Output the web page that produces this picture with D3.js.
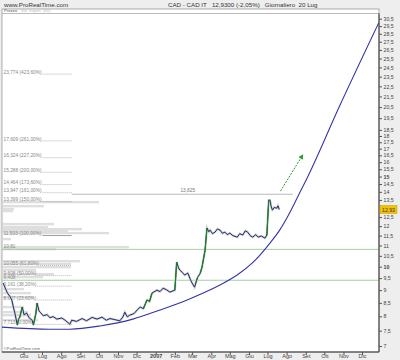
<!DOCTYPE html>
<html><head><meta charset="utf-8">
<script src="https://cdn.jsdelivr.net/npm/d3@7"></script>
<style>
html,body{margin:0;padding:0;background:#eeeeee;}
svg{display:block;font-family:"Liberation Sans",Arial,sans-serif;}
</style></head>
<body><svg id="chart" width="400" height="360"></svg>
<script>
// ---------- data ----------
const priceDates = ["2006-04-29","2006-05-03","2006-05-06","2006-05-10","2006-05-13","2006-05-16","2006-05-18","2006-05-22","2006-05-24","2006-05-26","2006-05-30","2006-06-02","2006-06-06","2006-06-10","2006-06-15","2006-06-17","2006-06-21","2006-06-23","2006-06-26","2006-06-28","2006-07-03","2006-07-09","2006-07-14","2006-07-19","2006-07-25","2006-08-02","2006-08-08","2006-08-15","2006-08-18","2006-08-26","2006-09-04","2006-09-11","2006-09-20","2006-09-28","2006-10-06","2006-10-13","2006-10-19","2006-10-27","2006-11-04","2006-11-09","2006-11-12","2006-11-16","2006-11-20","2006-11-27","2006-12-02","2006-12-07","2006-12-12","2006-12-18","2006-12-22","2006-12-26","2007-01-03","2007-01-08","2007-01-13","2007-01-18","2007-01-24","2007-02-01","2007-02-04","2007-02-07","2007-02-09","2007-02-13","2007-02-17","2007-02-22","2007-02-26","2007-03-01","2007-03-05","2007-03-07","2007-03-10","2007-03-14","2007-03-17","2007-03-22","2007-03-25","2007-03-28","2007-03-30","2007-04-03","2007-04-07","2007-04-11","2007-04-15","2007-04-19","2007-04-23","2007-04-27","2007-05-01","2007-05-06","2007-05-13","2007-05-17","2007-05-22","2007-05-26","2007-05-30","2007-06-03","2007-06-07","2007-06-12","2007-06-16","2007-06-21","2007-06-27","2007-06-30","2007-07-03","2007-07-05","2007-07-07","2007-07-09","2007-07-12","2007-07-16","2007-07-18","2007-07-20"];
const priceCloses = [9.29,9.05,8.88,8.75,8.61,8.30,8.12,7.69,7.90,7.97,8.34,8.05,8.12,7.95,7.86,7.69,8.10,8.49,8.20,8.15,8.02,8.06,7.95,7.99,7.90,7.94,7.85,7.72,7.86,7.82,7.92,7.84,7.96,7.90,7.97,7.86,7.92,7.88,7.84,7.98,8.15,7.98,8.04,8.10,8.23,8.34,8.28,8.61,8.55,8.88,9.00,8.94,9.08,9.02,8.92,9.00,10.21,9.95,9.85,9.75,9.63,9.72,9.45,9.29,9.12,9.30,9.54,9.70,9.98,10.78,11.90,11.70,11.79,11.60,11.68,11.85,11.79,11.62,11.68,11.55,11.63,11.50,11.42,11.60,11.53,11.75,11.68,11.50,11.42,11.55,11.42,11.48,11.37,11.53,13.49,13.49,13.10,12.90,13.05,13.01,13.15,12.93];

const curveDates = ["2006-04-27","2006-07-14","2006-08-15","2006-10-03","2006-11-25","2007-01-08","2007-02-21","2007-03-19","2007-04-15","2007-05-13","2007-06-07","2007-07-05","2007-07-21","2007-08-06","2007-08-22","2007-09-04","2007-10-25","2007-12-28"];
const curvePrices = [7.62,7.55,7.55,7.66,7.90,8.23,8.61,8.88,9.21,9.63,10.18,11.12,11.80,12.74,13.93,14.97,20.50,29.92];

const fibValues = [23.774,17.609,16.324,15.288,14.464,13.947,13.399,11.503,10.055,9.608,9.161,8.607,7.713];
const fibLabels = ["23,774 (423,60%)","17,609 (261,00%)","16,324 (227,20%)","15,288 (200,00%)","14,464 (173,60%)","13,947 (161,00%)","13,399 (150,00%)","11,503 (100,00%)","10,055 (61,80%)","9,608 (50,00%)","9,161 (38,20%)","8,607 (23,60%)","7,713 (0,00%)"];
const fibEndDate = "2006-08-18";

const supportValues = [10.81, 9.408];
const supportLabels = ["10,81", "9,408"];

const peakValue = 13.85;
const peakLabel = "13,825";
const peakDates = ["2006-08-18","2007-08-11"];

const arrowDates = ["2007-07-22","2007-08-27"];
const arrowPrices = [14.05, 16.52];

const vpPrices = [13.37,13.13,12.96,12.84,12.11,11.95,11.84,11.74,11.63,11.32,10.92,10.82,10.25,10.12,9.98,9.85,9.67,9.54,9.04,8.88,8.72,8.34,8.15,8.04,7.86];
const vpVolumes = [960,410,110,100,510,450,790,650,1060,80,1260,530,770,680,680,330,510,400,210,280,310,210,250,280,350];

const monthTickDates = ["2006-06-01","2006-07-01","2006-08-01","2006-09-01","2006-10-01","2006-11-01","2006-12-01","2007-01-01","2007-02-01","2007-03-01","2007-04-01","2007-05-01","2007-06-01","2007-07-01","2007-08-01","2007-09-01","2007-10-01","2007-11-01","2007-12-01"];
const monthTickLabels = ["Giu","Lug","Ago","Set","Ott","Nov","Dic","2007","Feb","Mar","Apr","Mag","Giu","Lug","Ago","Set","Ott","Nov","Dic"];

const yTickValues = [30.5,29.5,28.5,27.5,26.5,25.5,24.5,23.5,22.5,21.5,20.5,19.5,18.5,18,17.5,17,16.5,16,15.5,15,14.5,14,13.5,12.5,12,11.5,11,10.5,10,9.5,9,8.5,8,7.5,7];
const lastPrice = 12.93;
const lastPriceLabel = "12,93";

// ---------- layout ----------
const svg = d3.select("#chart");
const P = {l:2, r:379, t:13.5, b:352};
const parse = d3.timeParse("%Y-%m-%d");
const x = d3.scaleTime().domain([parse("2006-06-01"), parse("2007-12-01")]).range([23.5, 362]);
const y = d3.scaleLog().domain([7, 30.5]).range([346, 18.7]);
const fmt = v => String(v).replace(".", ",");

// header
svg.append("text").attr("x",4).attr("y",7).attr("font-size",6.2).attr("fill","#333").text("www.ProRealTime.com");
svg.append("text").attr("x",168).attr("y",7).attr("font-size",6.2).attr("fill","#333")
  .attr("xml:space","preserve").text("CAD - CAD IT   12,9300 (-2,05%)   Giornaliero  20 Lug");

// panel
svg.append("rect").attr("x",P.l).attr("y",9).attr("width",P.r-P.l).attr("height",P.b-9)
  .attr("fill","#fff").attr("stroke","#999").attr("stroke-width",0.8);
svg.append("line").attr("x1",P.l).attr("x2",P.r).attr("y1",P.t).attr("y2",P.t).attr("stroke","#aaa").attr("stroke-width",0.8);
svg.append("text").attr("x",4).attr("y",12.4).attr("font-size",4.2).attr("fill","#555").text("Prezzo");
svg.append("text").attr("x",21).attr("y",12.4).attr("font-size",4.2).attr("fill","#bbb").text("Vol. espon. (50)");

svg.append("clipPath").attr("id","clip").append("rect")
  .attr("x",P.l).attr("y",P.t).attr("width",P.r-P.l).attr("height",P.b-P.t);
const g = svg.append("g").attr("clip-path","url(#clip)");

// volume-by-price bars
const vx = d3.scaleLinear().domain([0,1300]).range([0,130]);
g.selectAll(".vp").data(vpPrices).join("rect")
  .attr("x",P.l+1).attr("y",d=>y(d)-1.2).attr("height",2.4)
  .attr("width",(d,i)=>vx(vpVolumes[i])).attr("fill","#dedede");

// support lines (green)
supportValues.forEach((v,i)=>{
  g.append("line").attr("x1",P.l).attr("x2",P.r).attr("y1",y(v)).attr("y2",y(v))
    .attr("stroke","#9cc79c").attr("stroke-width",0.9);
  g.append("text").attr("x",3.5).attr("y",y(v)-1).attr("font-size",4.8).attr("fill","#888").text(supportLabels[i]);
});

// fib levels
const fibX = x(parse(fibEndDate));
fibValues.forEach((v,i)=>{
  const t = g.append("text").attr("x",3.5).attr("y",y(v)-0.3).attr("font-size",4.8).attr("fill","#888").text(fibLabels[i]);
  const tw = t.node().getComputedTextLength();
  g.append("line").attr("x1",3.5+tw+1).attr("x2",fibX).attr("y1",y(v)).attr("y2",y(v))
    .attr("stroke", v===11.503 ? "#777" : "#999").attr("stroke-width",0.7)
    .attr("stroke-dasharray", v===11.503 ? null : "1,1");
});

// peak line
g.append("line").attr("x1",x(parse(peakDates[0]))).attr("x2",x(parse(peakDates[1])))
  .attr("y1",y(peakValue)).attr("y2",y(peakValue)).attr("stroke","#aaa").attr("stroke-width",0.8);
g.append("text").attr("x",x(parse("2007-02-10"))).attr("y",y(peakValue)-2.5)
  .attr("font-size",4.8).attr("fill","#777").text(peakLabel);

// price series
const pts = priceDates.map((d,i)=>({d:parse(d), v:priceCloses[i]}));
const line = d3.line().x(p=>x(p.d)).y(p=>y(p.v));
g.append("path").datum(pts).attr("d",line).attr("fill","none")
  .attr("stroke","#d2d2d2").attr("stroke-width",2.4);
g.append("path").datum(pts).attr("d",line).attr("fill","none")
  .attr("stroke","#0c1b5e").attr("stroke-width",0.9).attr("stroke-linejoin","round");
for(let i=1;i<pts.length;i++){
  if(pts[i].v/pts[i-1].v > 1.025){
    g.append("line").attr("x1",x(pts[i-1].d)).attr("y1",y(pts[i-1].v))
      .attr("x2",x(pts[i].d)).attr("y2",y(pts[i].v)).attr("stroke","#178a17").attr("stroke-width",1.1);
  }
}

// parabolic curve
const cpts = curveDates.map((d,i)=>({d:parse(d), v:curvePrices[i]}));
g.append("path").datum(cpts).attr("d", d3.line().x(p=>x(p.d)).y(p=>y(p.v)).curve(d3.curveMonotoneX))
  .attr("fill","none").attr("stroke","#3535a8").attr("stroke-width",1.1);

// arrow
svg.append("defs").append("marker").attr("id","ah").attr("viewBox","0 0 10 10")
  .attr("refX",8).attr("refY",5).attr("markerWidth",5).attr("markerHeight",5).attr("orient","auto")
  .append("path").attr("d","M0,0 L10,5 L0,10 z").attr("fill","#2a9a2a");
g.append("line").attr("x1",x(parse(arrowDates[0]))).attr("y1",y(arrowPrices[0]))
  .attr("x2",x(parse(arrowDates[1]))).attr("y2",y(arrowPrices[1]))
  .attr("stroke","#2a9a2a").attr("stroke-width",1).attr("stroke-dasharray","2,1.2")
  .attr("marker-end","url(#ah)");

svg.append("text").attr("x",3.5).attr("y",350).attr("font-size",4.2).attr("fill","#666").text("\u00a9ProRealTime.com");

// axes
const ax = svg.append("g").attr("transform",`translate(0,${P.b})`)
  .call(d3.axisBottom(x).tickValues(monthTickDates.map(parse)).tickFormat((d,i)=>monthTickLabels[i]).tickSize(3).tickSizeOuter(0));
ax.select(".domain").attr("d",`M${P.l},0H${P.r}`).attr("stroke","#333");
ax.selectAll("text").attr("font-size",5.5).attr("fill","#444").attr("dy","0.6em").attr("y",2.5)
  .attr("font-weight",(d,i)=>monthTickLabels[i]==="2007"?"bold":null);
ax.selectAll("line").attr("stroke","#555");

const ay = svg.append("g").attr("transform",`translate(${P.r},0)`)
  .call(d3.axisRight(y).tickValues(yTickValues).tickFormat(fmt).tickSize(3).tickSizeOuter(0));
ay.select(".domain").attr("d",`M0,${P.t}V${P.b}`).attr("stroke","#333");
ay.selectAll("text").attr("font-size",5.2).attr("fill","#444").attr("x",4.5)
  .attr("font-weight",d=>(d===10||d===15)?"bold":null);
ay.selectAll("line").attr("stroke","#555");

// last price box
const ly = y(lastPrice);
svg.append("rect").attr("x",P.r+1).attr("y",ly-4).attr("width",17).attr("height",8)
  .attr("fill","#f3c300").attr("stroke","#c99a00").attr("stroke-width",0.5);
svg.append("text").attr("x",P.r+9.5).attr("y",ly+2).attr("text-anchor","middle")
  .attr("font-size",5.2).attr("fill","#333").text(lastPriceLabel);
</script></body></html>
